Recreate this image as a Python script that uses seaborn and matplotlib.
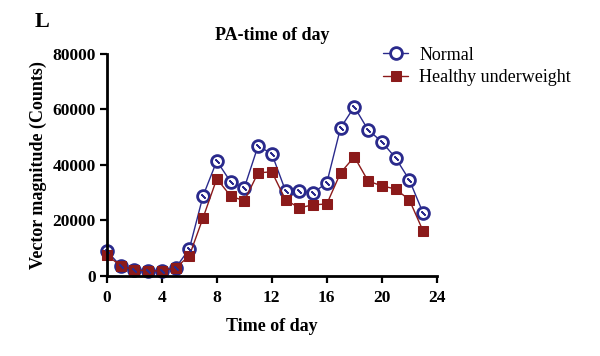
import matplotlib
matplotlib.use("Agg")
import matplotlib.pyplot as plt
import seaborn as sns
import pandas as pd

hours = list(range(24))
normal = [9000, 3600, 2200, 1800, 1800, 2900, 9700, 28800, 41400, 33900, 31700, 46800,
          44000, 30600, 30600, 29900, 33500, 53300, 60900, 52600, 48300, 42500, 34600, 22700]
underweight = [7600, 3600, 2200, 1800, 1800, 2900, 7200, 20900, 35000, 28800, 27000, 37100,
               37500, 27400, 24500, 25600, 25900, 37100, 42900, 34200, 32400, 31300, 27400, 16200]
series_names = ["Normal", "Healthy underweight"]
x_ticks = [0, 4, 8, 12, 16, 20, 24]
y_ticks = [0, 20000, 40000, 60000, 80000]

df = pd.DataFrame({
    "hour": hours * 2,
    "value": normal + underweight,
    "group": [series_names[0]] * 24 + [series_names[1]] * 24,
})

sns.set_style("white")
plt.rcParams['font.family'] = ['Liberation Serif', 'DejaVu Serif']
for k in ["text.color", "axes.labelcolor", "xtick.color", "ytick.color"]:
    plt.rcParams[k] = "black"

fig = plt.figure(figsize=(6, 3.56), dpi=100)
ax = fig.add_axes([0.178, 0.225, 0.55, 0.624])

navy = "#2a2a8c"
red = "#8b1a1a"

d_norm = df[df.group == series_names[0]]
d_under = df[df.group == series_names[1]]

sns.lineplot(data=d_norm, x="hour", y="value", ax=ax, color=navy,
             marker="o", markersize=8.5, markerfacecolor="white", markeredgecolor=navy,
             markeredgewidth=2.0, linewidth=1, label=series_names[0])
sns.lineplot(data=d_under, x="hour", y="value", ax=ax, color=red,
             marker="s", markersize=6.5, markerfacecolor=red, markeredgecolor=red,
             linewidth=1, label=series_names[1])
# slash inside the open circles
sns.lineplot(data=d_norm, x="hour", y="value", ax=ax, color=navy, linewidth=0,
             marker=(2, 2, 45), markersize=4, markeredgewidth=1.2, markeredgecolor=navy,
             legend=False)

ax.set_xlim(0, 24)
ax.set_ylim(0, 80000)
ax.set_xticks(x_ticks)
ax.set_yticks(y_ticks)
for s in ["top", "right"]:
    ax.spines[s].set_visible(False)
for s in ["left", "bottom"]:
    ax.spines[s].set_linewidth(2)
    ax.spines[s].set_color("black")
ax.tick_params(axis="both", direction="out", length=5, width=1.6, labelsize=12.5,
               color="black", bottom=True, left=True, pad=3)
ax.tick_params(axis="x", pad=5)
for lab in ax.get_xticklabels() + ax.get_yticklabels():
    lab.set_fontweight("bold")
ax.set_xlabel("Time of day", fontsize=13, fontweight="bold", labelpad=9)
ax.set_ylabel("Vector magnitude (Counts)", fontsize=13, fontweight="bold", labelpad=4)
ax.set_title("PA-time of day", fontsize=13, fontweight="bold", pad=10)
for line in ax.lines:
    line.set_clip_on(False)

leg = ax.legend(loc="upper left", bbox_to_anchor=(0.815, 1.065), frameon=False, fontsize=13,
                handlelength=1.4, handletextpad=0.6, borderaxespad=0, labelspacing=0.3)

fig.text(0.058, 0.925, "L", fontsize=16, fontweight="bold")

fig.savefig("out.png", dpi=100)
